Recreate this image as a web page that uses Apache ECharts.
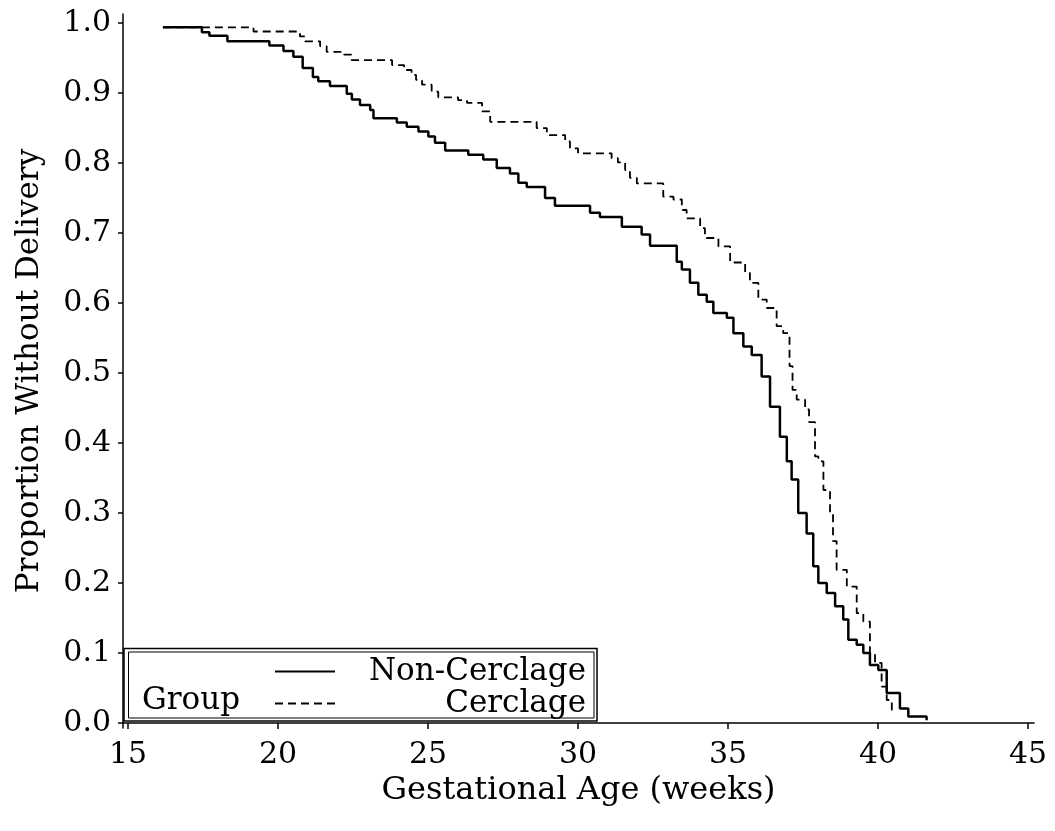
<!DOCTYPE html>
<html>
<head>
<meta charset="utf-8">
<script src="https://cdn.jsdelivr.net/npm/echarts@6/dist/echarts.min.js"></script>
<style>
  html, body { margin: 0; padding: 0; background: #fff; }
  #chart { width: 1055px; height: 831px; }
</style>
</head>
<body>
<div id="chart"></div>
<script>
// Kaplan-Meier steps: [week, proportion]
const nonCerclage = [
  [16.16, 0.994], [17.46, 0.987], [17.71, 0.982], [18.31, 0.974], [19.71, 0.968],
  [20.18, 0.960], [20.51, 0.952], [20.82, 0.936], [21.16, 0.923], [21.34, 0.917],
  [21.73, 0.910], [22.29, 0.899], [22.46, 0.891], [22.73, 0.883], [23.07, 0.876],
  [23.18, 0.864], [23.96, 0.858], [24.29, 0.852], [24.68, 0.845], [25.01, 0.838],
  [25.23, 0.829], [25.57, 0.818], [26.34, 0.812], [26.84, 0.805], [27.29, 0.793],
  [27.73, 0.785], [28.01, 0.772], [28.29, 0.766], [28.90, 0.750], [29.23, 0.739],
  [30.40, 0.729], [30.73, 0.723], [31.46, 0.709], [32.12, 0.698], [32.40, 0.682],
  [33.29, 0.659], [33.46, 0.648], [33.73, 0.629], [34.01, 0.612], [34.29, 0.602],
  [34.51, 0.586], [34.96, 0.579], [35.18, 0.557], [35.51, 0.538], [35.79, 0.526],
  [36.12, 0.495], [36.40, 0.452], [36.73, 0.409], [36.96, 0.374], [37.12, 0.348],
  [37.34, 0.300], [37.62, 0.271], [37.84, 0.224], [38.01, 0.200], [38.29, 0.186],
  [38.57, 0.167], [38.84, 0.148], [39.01, 0.119], [39.29, 0.112], [39.51, 0.100],
  [39.73, 0.083], [40.01, 0.076], [40.29, 0.043], [40.73, 0.021], [41.01, 0.0095],
  [41.62, 0.004]
];
const cerclage = [
  [16.16, 0.994], [19.18, 0.988], [20.73, 0.981], [20.90, 0.974], [21.40, 0.967],
  [21.62, 0.959], [22.20, 0.955], [22.45, 0.947], [23.80, 0.940], [24.20, 0.933],
  [24.45, 0.926], [24.60, 0.919], [24.80, 0.912], [25.12, 0.902], [25.34, 0.894],
  [26.00, 0.890], [26.30, 0.886], [26.80, 0.874], [27.07, 0.859], [28.62, 0.850],
  [28.96, 0.840], [29.57, 0.831], [29.73, 0.821], [30.00, 0.814], [31.12, 0.807],
  [31.33, 0.801], [31.57, 0.790], [31.73, 0.779], [31.96, 0.771], [32.84, 0.752],
  [33.18, 0.748], [33.46, 0.733], [33.62, 0.721], [34.07, 0.707], [34.23, 0.693],
  [34.68, 0.681], [35.07, 0.658], [35.57, 0.643], [35.73, 0.629], [36.01, 0.605],
  [36.29, 0.593], [36.62, 0.567], [36.84, 0.557], [37.05, 0.510], [37.15, 0.476],
  [37.29, 0.462], [37.57, 0.448], [37.70, 0.430], [37.90, 0.381], [38.01, 0.374],
  [38.18, 0.333], [38.40, 0.300], [38.50, 0.260], [38.62, 0.219], [38.96, 0.195],
  [39.29, 0.157], [39.51, 0.145], [39.73, 0.100], [39.90, 0.086], [40.12, 0.052],
  [40.29, 0.033], [40.46, 0.019], [40.60, 0.019]
];
const xTicks = [15, 20, 25, 30, 35, 40, 45];
const yTicks = [0, 0.1, 0.2, 0.3, 0.4, 0.5, 0.6, 0.7, 0.8, 0.9, 1.0];

const FONT = 'DejaVu Serif';
const chart = echarts.init(document.getElementById('chart'), null, { renderer: 'canvas' });

chart.setOption({
  backgroundColor: '#fff',
  animation: false,
  grid: { left: 123, right: 21, top: 14, bottom: 103 },
  xAxis: {
    type: 'value',
    min: 14.83, max: 45.2,
    name: 'Gestational Age (weeks)',
    nameLocation: 'middle',
    nameGap: 42,
    nameTextStyle: { fontFamily: FONT, fontSize: 32, color: '#000' },
    splitLine: { show: false },
    axisLine: { lineStyle: { color: '#000', width: 1.5 } },
    axisTick: { customValues: xTicks, length: 6, lineStyle: { color: '#000', width: 1.5 } },
    axisLabel: { customValues: xTicks, margin: 12, fontFamily: FONT, fontSize: 30, color: '#000' }
  },
  yAxis: {
    type: 'value',
    min: -0.007, max: 1.013,
    name: 'Proportion Without Delivery',
    nameLocation: 'middle',
    nameGap: 78,
    nameTextStyle: { fontFamily: FONT, fontSize: 31, color: '#000' },
    splitLine: { show: false },
    axisLine: { show: true, lineStyle: { color: '#000', width: 1.5 } },
    axisTick: { show: true, customValues: yTicks, length: 5, lineStyle: { color: '#000', width: 1.5 } },
    axisLabel: {
      customValues: yTicks, margin: 12, fontFamily: FONT, fontSize: 30, color: '#000',
      formatter: v => v.toFixed(1)
    }
  },
  legend: {
    orient: 'vertical',
    left: 274, top: 656,
    padding: 0,
    itemWidth: 60, itemHeight: 14,
    itemGap: 1, itemTextGap: 5,
    itemStyle: { opacity: 0 },
    formatter: name => '{t|' + name + '}',
    textStyle: {
      fontFamily: FONT, fontSize: 31, color: '#000',
      rich: { t: { width: 246, align: 'right', fontFamily: FONT, fontSize: 31, lineHeight: 28, height: 28 } }
    },
    data: ['Non-Cerclage', 'Cerclage']
  },
  graphic: [
    { type: 'rect', shape: { x: 124, y: 648.5, width: 473, height: 72.5 }, style: { fill: 'none', stroke: '#000', lineWidth: 1.5 }, z: 10 },
    { type: 'rect', shape: { x: 128.5, y: 652, width: 465.5, height: 66 }, style: { fill: 'none', stroke: '#000', lineWidth: 1 }, z: 10 },
    { type: 'text', x: 142, y: 701, style: { text: 'Group', font: '31px "DejaVu Serif"', fill: '#000', verticalAlign: 'middle' }, z: 10 }
  ],
  series: [
    {
      name: 'Non-Cerclage', type: 'line', step: 'end', data: nonCerclage,
      symbol: 'none', lineStyle: { color: '#000', width: 2.5 }, itemStyle: { color: '#000' }
    },
    {
      name: 'Cerclage', type: 'line', step: 'end', data: cerclage,
      symbol: 'none', lineStyle: { color: '#000', width: 1.8, type: [8, 5] }, itemStyle: { color: '#000' }
    }
  ]
});
</script>
</body>
</html>
